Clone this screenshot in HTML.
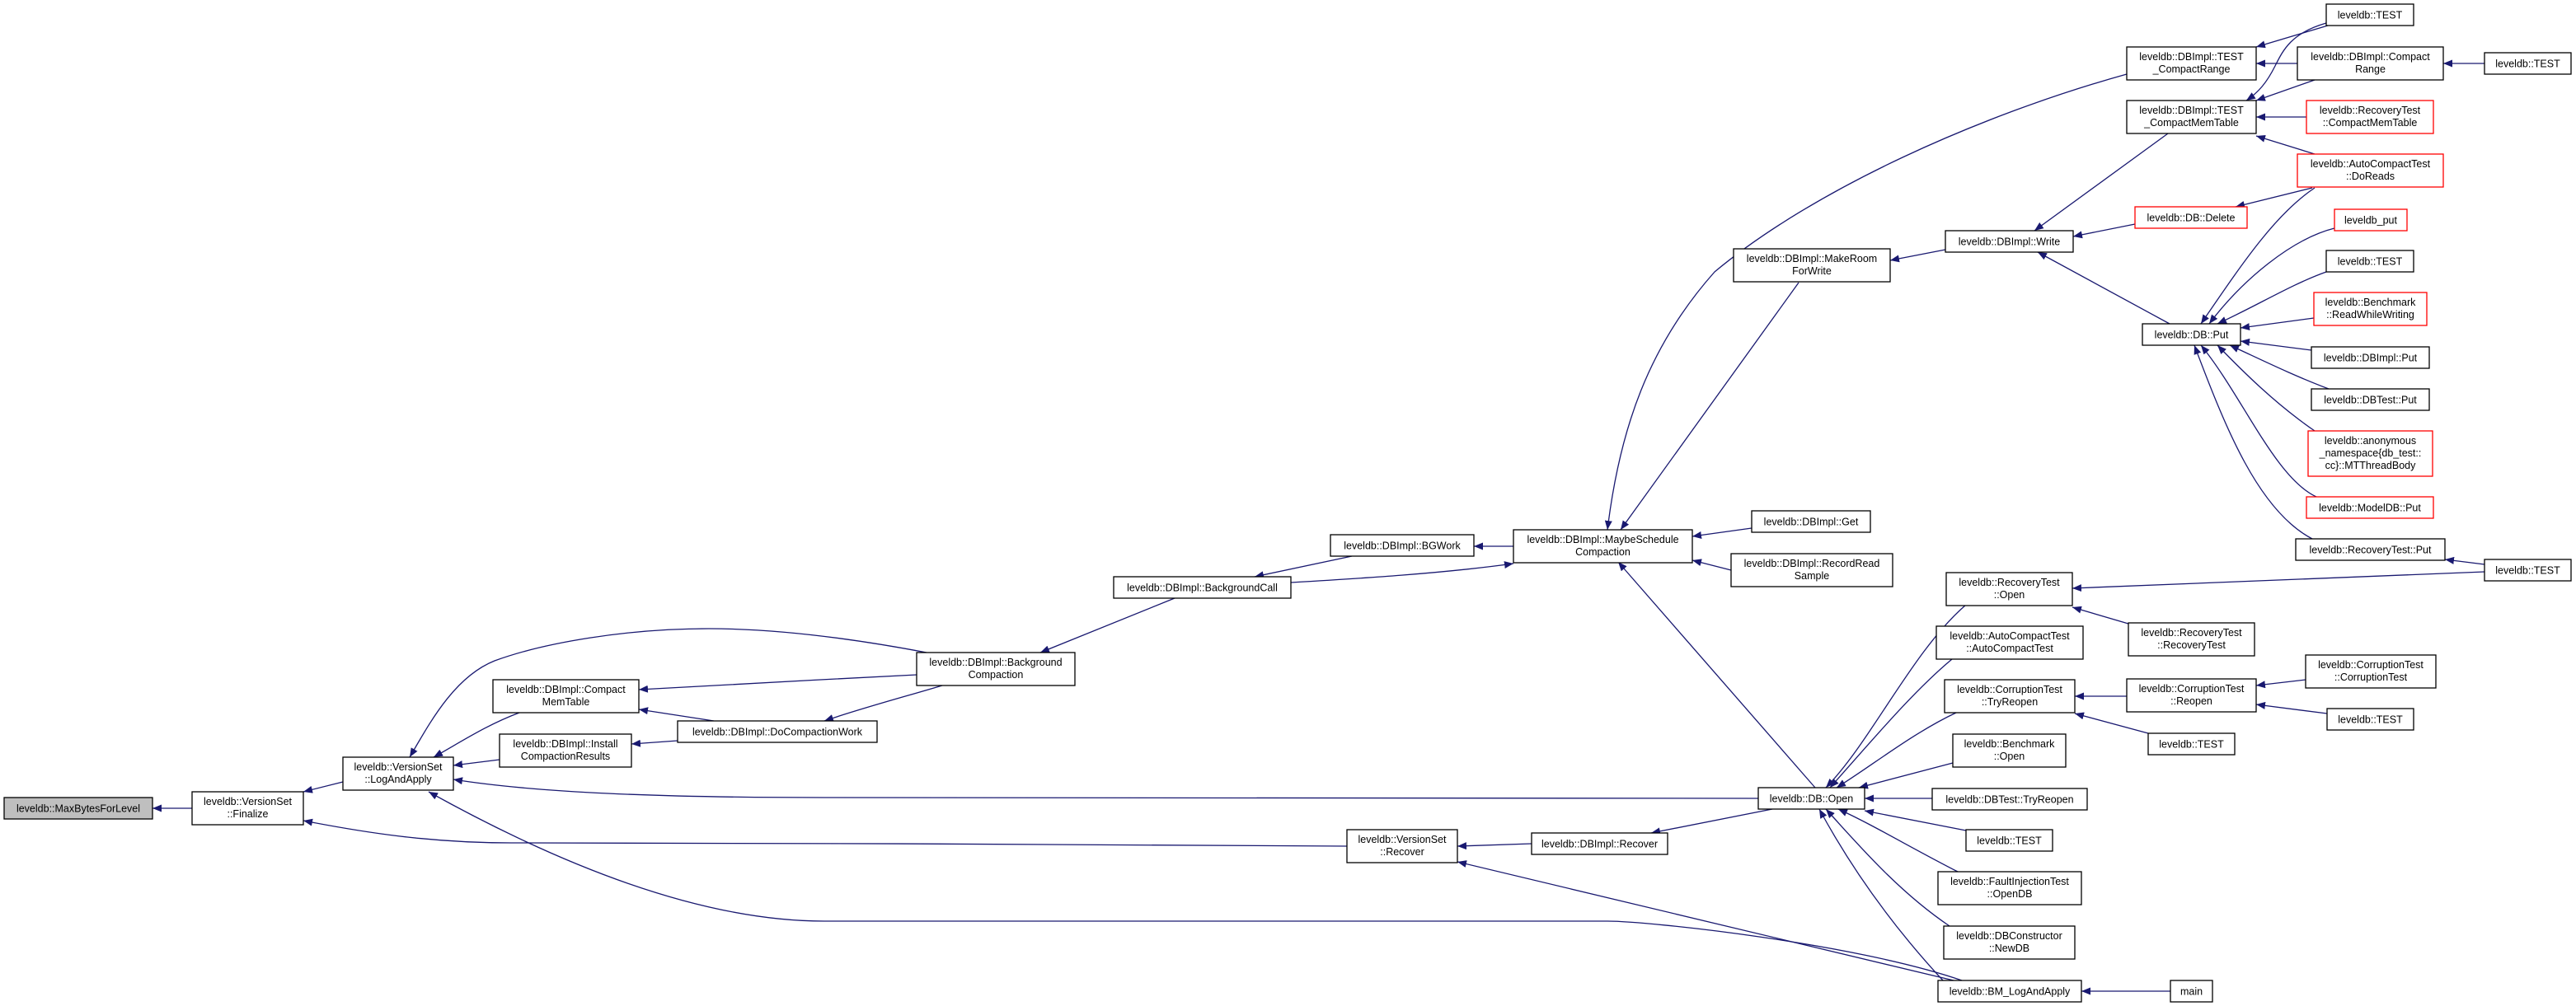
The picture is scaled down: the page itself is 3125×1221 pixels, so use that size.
<!DOCTYPE html>
<html><head><meta charset="utf-8"><style>
html,body{margin:0;padding:0;background:#fff;}
svg{display:block;}
text{font-family:"Liberation Sans",sans-serif;font-size:12.5px;fill:#000;text-anchor:middle;}
.n{fill:#fff;stroke:#000;stroke-width:1.3;}
.r{fill:#fff;stroke:#ff0000;stroke-width:1.3;}
.g{fill:#bfbfbf;stroke:#000;stroke-width:1.3;}
.e{fill:none;stroke:#191970;stroke-width:1.3;marker-end:url(#a);}
</style></head><body>
<svg width="3125" height="1221" viewBox="0 0 3125 1221" xmlns="http://www.w3.org/2000/svg">
<defs><marker id="a" markerUnits="userSpaceOnUse" markerWidth="12" markerHeight="9" refX="11" refY="4.5" orient="auto"><path d="M0,0 L11,4.5 L0,9 z" fill="#191970"/></marker></defs>
<g>
<path class="e" d="M233,981 L185,981"/>
<path class="e" d="M416,949 L368,961"/>
<path class="e" d="M1634,1027 C1400,1025 900,1023 620,1023 C520,1023 440,1010 368,996"/>
<path class="e" d="M630,865 C590,880 560,900 526,919"/>
<path class="e" d="M606,922 L550,929"/>
<path class="e" d="M1124,792 C1050,778 950,763 860,763 C760,763 660,780 600,802 C550,822 520,880 497,919"/>
<path class="e" d="M2133,969 L1000,968 C800,968 650,962 550,946"/>
<path class="e" d="M2380,1190 C2250,1145 2000,1118 1950,1118 L1000,1118 C850,1118 680,1050 520,961"/>
<path class="e" d="M1112,819 C1000,825 850,832 775,837"/>
<path class="e" d="M866,875 L775,861"/>
<path class="e" d="M822,899 L766,903"/>
<path class="e" d="M1143,832 C1100,845 1050,858 1000,875"/>
<path class="e" d="M1425,726 L1262,792"/>
<path class="e" d="M1640,675 L1522,700"/>
<path class="e" d="M1836,663 L1788,663"/>
<path class="e" d="M1566,707 C1650,702 1750,696 1836,684"/>
<path class="e" d="M2580,90 C2400,140 2200,230 2080,330 C2000,420 1965,520 1950,643"/>
<path class="e" d="M2182,343 L1966,643"/>
<path class="e" d="M2125,641 L2053,651"/>
<path class="e" d="M2100,692 L2053,680"/>
<path class="e" d="M2202,956 L1963,682"/>
<path class="e" d="M2360,303 L2293,316"/>
<path class="e" d="M2630,162 L2468,280"/>
<path class="e" d="M2590,272 L2515,287"/>
<path class="e" d="M2632,393 L2472,306"/>
<path class="e" d="M2824,31 L2737,57"/>
<path class="e" d="M2787,77 L2737,77"/>
<path class="e" d="M2822,28 C2780,40 2770,60 2760,80 C2750,100 2740,112 2725,122"/>
<path class="e" d="M2808,97 L2737,122"/>
<path class="e" d="M2798,142 L2737,142"/>
<path class="e" d="M2808,187 L2737,165"/>
<path class="e" d="M3014,77 L2964,77"/>
<path class="e" d="M2805,228 L2712,251"/>
<path class="e" d="M2808,228 C2760,260 2720,320 2670,393"/>
<path class="e" d="M2832,277 C2780,290 2720,340 2680,393"/>
<path class="e" d="M2822,330 C2780,345 2740,370 2690,393"/>
<path class="e" d="M2807,386 L2718,398"/>
<path class="e" d="M2804,425 L2718,414"/>
<path class="e" d="M2825,472 C2780,455 2740,435 2705,419"/>
<path class="e" d="M2808,523 C2760,490 2720,450 2690,419"/>
<path class="e" d="M2810,603 C2760,580 2720,480 2670,419"/>
<path class="e" d="M2805,654 C2740,620 2700,520 2662,419"/>
<path class="e" d="M3014,685 L2966,679"/>
<path class="e" d="M3014,694 L2514,714"/>
<path class="e" d="M1858,1024 L1768,1027"/>
<path class="e" d="M2370,1190 L1768,1046"/>
<path class="e" d="M2150,982 L2003,1011"/>
<path class="e" d="M2385,734 C2320,790 2270,900 2215,956"/>
<path class="e" d="M2368,800 C2320,840 2270,900 2220,956"/>
<path class="e" d="M2373,865 C2320,890 2270,930 2228,956"/>
<path class="e" d="M2369,926 L2255,956"/>
<path class="e" d="M2344,969 L2262,969"/>
<path class="e" d="M2385,1008 L2262,984"/>
<path class="e" d="M2375,1058 C2320,1030 2270,1000 2230,982"/>
<path class="e" d="M2365,1124 C2300,1080 2250,1020 2215,982"/>
<path class="e" d="M2357,1190 C2320,1150 2260,1080 2207,982"/>
<path class="e" d="M2582,757 L2514,737"/>
<path class="e" d="M2580,845 L2517,845"/>
<path class="e" d="M2606,890 L2517,866"/>
<path class="e" d="M2797,825 L2737,832"/>
<path class="e" d="M2823,866 L2737,855"/>
<path class="e" d="M2633,1203 L2525,1203"/>
</g>
<g>
<rect class="g" x="5" y="968" width="180" height="26"/><text x="95" y="985.5">leveldb::MaxBytesForLevel</text>
<rect class="n" x="233" y="961" width="135" height="40"/><text x="300.5" y="977">leveldb::VersionSet</text><text x="300.5" y="992">::Finalize</text>
<rect class="n" x="416" y="919" width="134" height="40"/><text x="483" y="935">leveldb::VersionSet</text><text x="483" y="950">::LogAndApply</text>
<rect class="n" x="598" y="825" width="177" height="40"/><text x="686.5" y="841">leveldb::DBImpl::Compact</text><text x="686.5" y="856">MemTable</text>
<rect class="n" x="606" y="891" width="160" height="40"/><text x="686" y="907">leveldb::DBImpl::Install</text><text x="686" y="922">CompactionResults</text>
<rect class="n" x="822" y="875" width="242" height="26"/><text x="943" y="892.5">leveldb::DBImpl::DoCompactionWork</text>
<rect class="n" x="1112" y="792" width="192" height="40"/><text x="1208" y="808">leveldb::DBImpl::Background</text><text x="1208" y="823">Compaction</text>
<rect class="n" x="1351" y="700" width="215" height="26"/><text x="1458.5" y="717.5">leveldb::DBImpl::BackgroundCall</text>
<rect class="n" x="1614" y="649" width="174" height="26"/><text x="1701" y="666.5">leveldb::DBImpl::BGWork</text>
<rect class="n" x="1836" y="643" width="217" height="40"/><text x="1944.5" y="659">leveldb::DBImpl::MaybeSchedule</text><text x="1944.5" y="674">Compaction</text>
<rect class="n" x="2125" y="620" width="144" height="26"/><text x="2197" y="637.5">leveldb::DBImpl::Get</text>
<rect class="n" x="2100" y="672" width="196" height="40"/><text x="2198" y="688">leveldb::DBImpl::RecordRead</text><text x="2198" y="703">Sample</text>
<rect class="n" x="2103" y="302" width="190" height="40"/><text x="2198" y="318">leveldb::DBImpl::MakeRoom</text><text x="2198" y="333">ForWrite</text>
<rect class="n" x="2360" y="280" width="155" height="26"/><text x="2437.5" y="297.5">leveldb::DBImpl::Write</text>
<rect class="n" x="2580" y="57" width="157" height="40"/><text x="2658.5" y="73">leveldb::DBImpl::TEST</text><text x="2658.5" y="88">_CompactRange</text>
<rect class="n" x="2580" y="122" width="157" height="40"/><text x="2658.5" y="138">leveldb::DBImpl::TEST</text><text x="2658.5" y="153">_CompactMemTable</text>
<rect class="r" x="2590" y="251" width="136" height="26"/><text x="2658" y="268.5">leveldb::DB::Delete</text>
<rect class="n" x="2599" y="393" width="119" height="26"/><text x="2658.5" y="410.5">leveldb::DB::Put</text>
<rect class="n" x="2822" y="5" width="106" height="26"/><text x="2875" y="22.5">leveldb::TEST</text>
<rect class="n" x="2787" y="57" width="177" height="40"/><text x="2875.5" y="73">leveldb::DBImpl::Compact</text><text x="2875.5" y="88">Range</text>
<rect class="n" x="3014" y="64" width="105" height="26"/><text x="3066.5" y="81.5">leveldb::TEST</text>
<rect class="r" x="2798" y="122" width="154" height="40"/><text x="2875" y="138">leveldb::RecoveryTest</text><text x="2875" y="153">::CompactMemTable</text>
<rect class="r" x="2787" y="187" width="177" height="40"/><text x="2875.5" y="203">leveldb::AutoCompactTest</text><text x="2875.5" y="218">::DoReads</text>
<rect class="r" x="2832" y="254" width="88" height="26"/><text x="2876" y="271.5">leveldb_put</text>
<rect class="n" x="2822" y="304" width="106" height="26"/><text x="2875" y="321.5">leveldb::TEST</text>
<rect class="r" x="2807" y="355" width="137" height="40"/><text x="2875.5" y="371">leveldb::Benchmark</text><text x="2875.5" y="386">::ReadWhileWriting</text>
<rect class="n" x="2804" y="421" width="143" height="26"/><text x="2875.5" y="438.5">leveldb::DBImpl::Put</text>
<rect class="n" x="2804" y="472" width="143" height="26"/><text x="2875.5" y="489.5">leveldb::DBTest::Put</text>
<rect class="r" x="2800" y="523" width="151" height="55"/><text x="2875.5" y="539">leveldb::anonymous</text><text x="2875.5" y="554">_namespace{db_test::</text><text x="2875.5" y="569">cc}::MTThreadBody</text>
<rect class="r" x="2798" y="603" width="154" height="26"/><text x="2875" y="620.5">leveldb::ModelDB::Put</text>
<rect class="n" x="2785" y="654" width="181" height="26"/><text x="2875.5" y="671.5">leveldb::RecoveryTest::Put</text>
<rect class="n" x="3014" y="679" width="105" height="26"/><text x="3066.5" y="696.5">leveldb::TEST</text>
<rect class="n" x="2361" y="695" width="153" height="40"/><text x="2437.5" y="711">leveldb::RecoveryTest</text><text x="2437.5" y="726">::Open</text>
<rect class="n" x="2349" y="760" width="178" height="40"/><text x="2438" y="776">leveldb::AutoCompactTest</text><text x="2438" y="791">::AutoCompactTest</text>
<rect class="n" x="2582" y="756" width="153" height="40"/><text x="2658.5" y="772">leveldb::RecoveryTest</text><text x="2658.5" y="787">::RecoveryTest</text>
<rect class="n" x="2359" y="825" width="158" height="40"/><text x="2438" y="841">leveldb::CorruptionTest</text><text x="2438" y="856">::TryReopen</text>
<rect class="n" x="2580" y="824" width="157" height="40"/><text x="2658.5" y="840">leveldb::CorruptionTest</text><text x="2658.5" y="855">::Reopen</text>
<rect class="n" x="2797" y="795" width="158" height="40"/><text x="2876" y="811">leveldb::CorruptionTest</text><text x="2876" y="826">::CorruptionTest</text>
<rect class="n" x="2823" y="860" width="105" height="26"/><text x="2875.5" y="877.5">leveldb::TEST</text>
<rect class="n" x="2606" y="890" width="105" height="26"/><text x="2658.5" y="907.5">leveldb::TEST</text>
<rect class="n" x="2369" y="891" width="137" height="40"/><text x="2437.5" y="907">leveldb::Benchmark</text><text x="2437.5" y="922">::Open</text>
<rect class="n" x="2133" y="956" width="129" height="26"/><text x="2197.5" y="973.5">leveldb::DB::Open</text>
<rect class="n" x="2344" y="957" width="188" height="26"/><text x="2438" y="974.5">leveldb::DBTest::TryReopen</text>
<rect class="n" x="2385" y="1007" width="105" height="26"/><text x="2437.5" y="1024.5">leveldb::TEST</text>
<rect class="n" x="2351" y="1058" width="174" height="40"/><text x="2438" y="1074">leveldb::FaultInjectionTest</text><text x="2438" y="1089">::OpenDB</text>
<rect class="n" x="2358" y="1124" width="159" height="40"/><text x="2437.5" y="1140">leveldb::DBConstructor</text><text x="2437.5" y="1155">::NewDB</text>
<rect class="n" x="2351" y="1190" width="174" height="26"/><text x="2438" y="1207.5">leveldb::BM_LogAndApply</text>
<rect class="n" x="2633" y="1190" width="51" height="26"/><text x="2658.5" y="1207.5">main</text>
<rect class="n" x="1634" y="1007" width="134" height="40"/><text x="1701" y="1023">leveldb::VersionSet</text><text x="1701" y="1038">::Recover</text>
<rect class="n" x="1858" y="1011" width="165" height="26"/><text x="1940.5" y="1028.5">leveldb::DBImpl::Recover</text>
</g>
</svg>
</body></html>
